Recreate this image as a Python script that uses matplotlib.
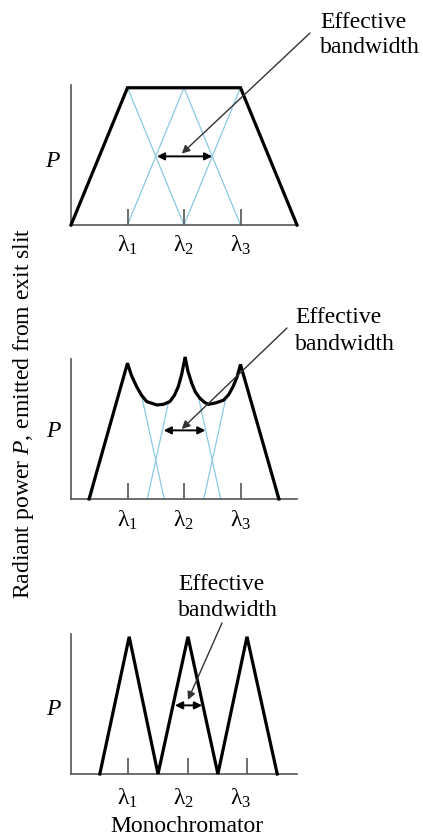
import matplotlib
matplotlib.use('Agg')
import matplotlib.pyplot as plt

plt.rcParams['font.family'] = ['Liberation Serif', 'DejaVu Serif']
plt.rcParams['mathtext.fontset'] = 'custom'
plt.rcParams['mathtext.rm'] = 'Liberation Serif'
plt.rcParams['mathtext.it'] = 'Liberation Serif:italic'

# data (x in units of the wavelength spacing, y relative to peak power)
lambda_labels = [r'$\mathrm{\lambda}_1$', r'$\mathrm{\lambda}_2$', r'$\mathrm{\lambda}_3$']
label_x = [1, 2, 3]

# panel 1: wide slit, flat-top envelope
p1_ticks = [1, 2, 3]
p1_black_x = [0, 1, 3, 4]
p1_black_y = [0, 1, 1, 0]
p1_blue_x = [[0, 1, 2], [1, 2, 3], [2, 3, 4]]
p1_blue_y = [0, 1, 0]
p1_band = (1.52, 2.50, 0.50)

# panel 2: medium slit, cusped envelope
p2_ticks = [1, 2, 3]
p2_black_x = [0.32, 1.0, 1.07, 1.16, 1.25, 1.34, 1.52, 1.64, 1.75, 1.83, 1.90, 1.96, 2.02,
              2.07, 2.14, 2.20, 2.28, 2.36, 2.43, 2.56, 2.70, 2.79, 2.87, 2.94, 3.0, 3.68]
p2_black_y = [0.0, 0.99, 0.90, 0.82, 0.755, 0.71, 0.685, 0.69, 0.71, 0.755, 0.82, 0.91, 1.035,
              0.93, 0.84, 0.78, 0.735, 0.705, 0.69, 0.70, 0.72, 0.76, 0.82, 0.89, 0.98, 0.0]
p2_blue_x = [[0.35, 1, 1.65], [1.35, 2, 2.65], [2.35, 3, 3.65]]
p2_blue_y = [0, 1.22, 0]
p2_band = (1.64, 2.38, 0.50)

# panel 3: narrow slit, separated triangles
p3_ticks = [1.01, 2.07, 3.115]
p3_black_x = [0.51, 1.03, 1.54, 2.07, 2.60, 3.115, 3.65]
p3_black_y = [0, 1, 0, 1, 0, 1, 0]
p3_band = (1.84, 2.32, 0.50)

W, H = 423, 836
blue = '#8cc9e2'
axis_col = '#555555'
fs = 17


def fx(px):
    return px / W


def fy(py):
    return 1 - py / H


fig = plt.figure(figsize=(W / 100, H / 100), dpi=100)


def make_axes(top, ticks):
    ax = fig.add_axes([fx(71), fy(top + 140), fx(226), 140 / H])
    ax.set_xlim(0, 4)
    ax.set_ylim(0, 1.02)
    for s in ['top', 'right']:
        ax.spines[s].set_visible(False)
    for s in ['left', 'bottom']:
        ax.spines[s].set_color(axis_col)
        ax.spines[s].set_linewidth(1.2)
    ax.set_yticks([])
    ax.set_xticks(ticks)
    ax.set_xticklabels([])
    ax.tick_params(axis='x', direction='in', length=11.5, width=1.2, color=axis_col)
    ax.patch.set_alpha(0)
    return ax


def lambda_text(ax, below):
    for x, lab in zip(label_x, lambda_labels):
        ax.text(x, -below / 140 * 1.0, lab, transform=ax.get_xaxis_transform(),
                ha='center', va='baseline', fontsize=fs)


def band_arrow(ax, band):
    x0, x1, y = band
    ax.annotate('', xy=(x0, y), xytext=(x1, y),
                arrowprops=dict(arrowstyle='<|-|>', color='black', lw=1.4,
                                mutation_scale=11, shrinkA=0, shrinkB=0))


def pointer(ax, tip, start):
    ax.annotate('', xy=tip, xycoords='data',
                xytext=(fx(start[0]), fy(start[1])), textcoords='figure fraction',
                arrowprops=dict(arrowstyle='-|>', color='#333333', lw=1.0,
                                mutation_scale=12, shrinkA=0, shrinkB=0), zorder=6)


def effective_text(left, base1, base2):
    fig.text(fx(left), fy(base1), 'Effective', ha='left', va='baseline', fontsize=fs)
    fig.text(fx(left), fy(base2), 'bandwidth', ha='left', va='baseline', fontsize=fs)


# panel 1
ax1 = make_axes(85, p1_ticks)
for bx in p1_blue_x:
    ax1.plot(bx, p1_blue_y, color=blue, lw=0.9, zorder=1)
ax1.plot(p1_black_x, p1_black_y, color='black', lw=2.3, zorder=3, clip_on=False,
         solid_joinstyle='miter')
band_arrow(ax1, p1_band)
pointer(ax1, (1.96, 0.52), (310, 33))
effective_text(320, 28, 53)
lambda_text(ax1, 27)
fig.text(fx(52), fy(167), 'P', fontstyle='italic', ha='center', va='baseline', fontsize=fs)

# panel 2
ax2 = make_axes(359, p2_ticks)
for bx in p2_blue_x:
    ax2.plot(bx, p2_blue_y, color=blue, lw=0.9, zorder=1)
ax2.fill_between(p2_black_x, p2_black_y, 1.3, color='white', zorder=2, lw=0)
ax2.plot(p2_black_x, p2_black_y, color='black', lw=2.3, zorder=3, clip_on=False,
         solid_joinstyle='miter')
band_arrow(ax2, p2_band)
pointer(ax2, (1.96, 0.51), (287, 328))
effective_text(295, 323, 350)
lambda_text(ax2, 28)
fig.text(fx(53), fy(437), 'P', fontstyle='italic', ha='center', va='baseline', fontsize=fs)

# panel 3
ax3 = make_axes(634, p3_ticks)
ax3.plot(p3_black_x, p3_black_y, color='black', lw=2.3, zorder=3, clip_on=False,
         solid_joinstyle='miter')
band_arrow(ax3, p3_band)
pointer(ax3, (2.07, 0.54), (222, 623))
effective_text(178, 590, 616)
lambda_text(ax3, 31)
fig.text(fx(53), fy(715), 'P', fontstyle='italic', ha='center', va='baseline', fontsize=fs)

fig.text(fx(187), fy(832), 'Monochromator', ha='center', va='baseline', fontsize=fs)
fig.text(fx(24), fy(413), 'Radiant power $P$, emitted from exit slit', rotation=90,
         ha='center', va='center', fontsize=fs)

fig.savefig('out.png', dpi=100, facecolor='white')
